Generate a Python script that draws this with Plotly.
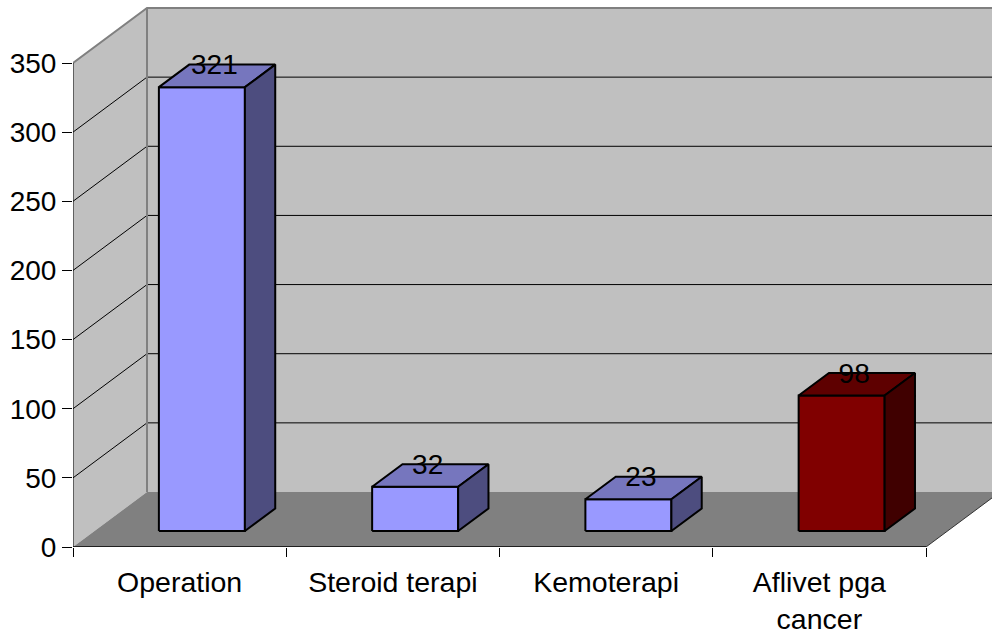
import plotly.graph_objects as go

categories = ["Operation", "Steroid terapi", "Kemoterapi", "Aflivet pga<br>cancer"]
values = [321, 32, 23, 98]
front_colors = ["#9999FF", "#9999FF", "#9999FF", "#800000"]
top_colors = ["#7676BE", "#7676BE", "#7676BE", "#5E0000"]
side_colors = ["#4D4D7F", "#4D4D7F", "#4D4D7F", "#400000"]
y_ticks = [0, 50, 100, 150, 200, 250, 300, 350]

# chart-space constants (category units and value units)
W, H = 992, 639
ML, MB = 73, 92
CAT_PX = (926 - 73) / 4
VAL_PX = (547 - 63) / 350
DX = 74 / CAT_PX
DY = 55 / VAL_PX
Z0, Z1 = 0.29, 0.70
BAR_W = 86 / CAT_PX
BAR_SHIFT = 0.8 / CAT_PX
LABEL_Z = 0.47
LABEL_UP = 26
FONT = "Liberation Sans, Arial, sans-serif"
YMAX = y_ticks[-1]
NCAT = len(categories)


def pt(x, y, z):
    return x + z * DX, y + z * DY


def poly(points, fill, line_color=None, line_width=0):
    xy = [pt(*p) for p in points + points[:1]]
    return go.Scatter(
        x=[a for a, _ in xy], y=[b for _, b in xy], mode="lines",
        fill="toself", fillcolor=fill,
        line=dict(color=line_color or fill, width=line_width),
        hoverinfo="skip", showlegend=False,
    )


def path(points, color, width):
    xy = [pt(*p) for p in points]
    return go.Scatter(
        x=[a for a, _ in xy], y=[b for _, b in xy], mode="lines",
        line=dict(color=color, width=width),
        hoverinfo="skip", showlegend=False,
    )


fig = go.Figure()
WALL, FLOOR, EDGE = "#C0C0C0", "#808080", "#808080"

# walls
fig.add_trace(poly([(0, 0, 1), (NCAT, 0, 1), (NCAT, YMAX, 1), (0, YMAX, 1)], WALL))
fig.add_trace(poly([(0, 0, 0), (0, YMAX, 0), (0, YMAX, 1), (0, 0, 1)], WALL))

# gridlines
for v in y_ticks[1:-1]:
    fig.add_trace(path([(0, v, 0), (0, v, 1), (NCAT, v, 1)], "#000000", 1))

# wall edges
fig.add_trace(path([(0, YMAX, 0), (0, YMAX, 1), (NCAT, YMAX, 1)], EDGE, 2))
fig.add_trace(path([(0, 0, 1), (0, YMAX, 1)], EDGE, 2))

# floor
fig.add_trace(poly([(0, 0, 0), (NCAT, 0, 0), (NCAT, 0, 1), (0, 0, 1)], FLOOR))
fig.add_trace(path([(NCAT, 0, 0), (NCAT, 0, 1)], "#333333", 1))

# bars
for i, v in enumerate(values):
    x0 = i + 0.5 - BAR_W / 2 + BAR_SHIFT
    x1 = x0 + BAR_W
    fig.add_trace(poly([(x0, 0, Z0), (x1, 0, Z0), (x1, v, Z0), (x0, v, Z0)],
                       front_colors[i], "#000000", 2))
    fig.add_trace(poly([(x0, v, Z0), (x1, v, Z0), (x1, v, Z1), (x0, v, Z1)],
                       top_colors[i], "#000000", 2))
    fig.add_trace(poly([(x1, 0, Z0), (x1, 0, Z1), (x1, v, Z1), (x1, v, Z0)],
                       side_colors[i], "#000000", 2))

# axis lines
fig.add_trace(path([(0, 0, 0), (0, YMAX, 0)], "#000000", 1))
fig.add_trace(path([(0, 0, 0), (NCAT, 0, 0)], "#000000", 1.5))

# data labels
lx = [pt(i + 0.5, v + LABEL_UP, LABEL_Z)[0] for i, v in enumerate(values)]
ly = [v + LABEL_UP for v in values]
fig.add_trace(go.Scatter(
    x=lx, y=ly, mode="text", text=[str(v) for v in values],
    textposition="middle center", textfont=dict(family=FONT, size=28, color="#000000"),
    hoverinfo="skip", showlegend=False, cliponaxis=False,
))

fig.update_layout(
    width=W, height=H, margin=dict(l=ML, r=0, t=0, b=MB, pad=0, autoexpand=False),
    paper_bgcolor="#FFFFFF", plot_bgcolor="#FFFFFF",
    font=dict(family=FONT, size=28, color="#000000"),
    showlegend=False,
    xaxis=dict(
        range=[0, (W - ML) / CAT_PX], showgrid=False, zeroline=False, showline=False,
        automargin=False,
        tickmode="array", tickvals=[i + 0.5 for i in range(NCAT)], ticktext=categories,
        tickfont=dict(family=FONT, size=28.5, color="#000000"),
        ticks="outside", ticklen=10, tickcolor="rgba(0,0,0,0)", tickangle=0,
        minor=dict(tickmode="array", tickvals=list(range(NCAT + 1)), ticks="outside",
                   ticklen=9, tickwidth=1, tickcolor="#000000", showgrid=False),
    ),
    yaxis=dict(
        range=[0, (H - MB) / VAL_PX], showgrid=False, zeroline=False, showline=False,
        automargin=False,
        tickmode="array", tickvals=y_ticks, ticks="outside", ticklen=10,
        tickwidth=1, tickcolor="#000000",
    ),
)

fig.write_html("out.html", config={"displayModeBar": False},
               post_script="document.body.style.margin='0';")
